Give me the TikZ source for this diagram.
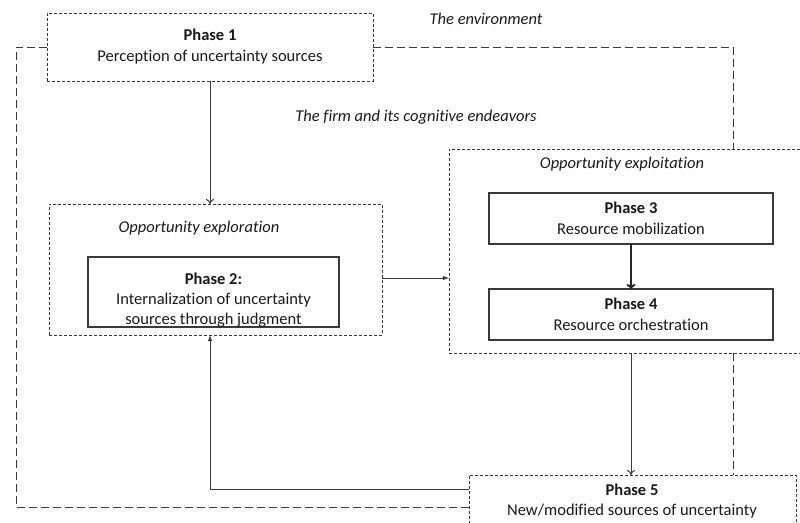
\documentclass[tikz,border=0pt]{standalone}
\usepackage{fontspec}
\setmainfont[Ligatures=NoCommon, RawFeature=-liga]{Carlito}
\usetikzlibrary{arrows.meta}
\definecolor{ln}{HTML}{3A3A3A}
\definecolor{tx}{HTML}{1A1A1A}
\tikzset{
  boxbase/.style={rectangle, inner sep=0pt, outer sep=0pt, align=center, text=tx, font=\fontsize{16.5}{21}\selectfont},
  dashbox/.style={boxbase, draw=ln, line width=1pt, dash pattern=on 3pt off 2pt},
  solidbox/.style={boxbase, draw=ln, line width=1.2pt},
  envline/.style={draw=ln, line width=0.9pt, dash pattern=on 8pt off 4pt},
  itlabel/.style={text=tx, font=\fontsize{16.5}{18}\selectfont\itshape, inner sep=0pt},
  txt/.style={text=tx, align=center, inner sep=0pt, font=\fontsize{16.5}{20}\selectfont},
  openarrow/.style={draw=ln, line width=1pt, -{To[length=5pt,width=8pt]}},
  fillarrow/.style={draw=ln, line width=1pt, -{Latex[length=6pt,width=4.5pt]}},
  thickarrow/.style={draw=black!85, line width=2pt, -{To[length=5pt,width=9pt]}}
}
\begin{document}
\begin{tikzpicture}[x=1pt, y=-1pt]
\clip (0,0) rectangle (800,522);
\fill[white] (0,0) rectangle (800,522);

% boxes
\node[dashbox, minimum width=326pt, minimum height=68pt] (p1) at (210,47)
  {\textbf{Phase 1}\\Perception of uncertainty sources};
\node[dashbox, minimum width=333pt, minimum height=131pt] (explo) at (215.5,269.5) {};
\node[solidbox, minimum width=251pt, minimum height=70pt] (p2) at (213.5,292) {};
\node[dashbox, minimum width=361pt, minimum height=204pt] (exploit) at (629.5,251) {};
\node[solidbox, minimum width=284pt, minimum height=51pt] (p3) at (631,218.5)
  {\textbf{Phase 3}\\Resource mobilization};
\node[solidbox, minimum width=284pt, minimum height=51pt] (p4) at (631,314.5)
  {\textbf{Phase 4}\\Resource orchestration};
\node[dashbox, minimum width=327pt, minimum height=65pt] (p5) at (632.5,507.5) {};

% texts inside boxes
\node[txt] (t2) at (213.5,300) {\textbf{Phase 2:}\\Internalization of uncertainty\\sources through judgment};
\node[txt] (t5) at (632,501) {\textbf{Phase 5}\\New/modified sources of uncertainty};

% italic labels
\node[itlabel] (lenv) at (486,19) {The environment};
\node[itlabel] (lfirm) at (416,117) {The firm and its cognitive endeavors};
\node[itlabel] (lexplo) at (199,228) {Opportunity exploration};
\node[itlabel] (lexploit) at (622,164) {Opportunity exploitation};

% environment boundary
\coordinate (eTL) at (16,47);
\coordinate (eBL) at (16,507);
\coordinate (eR) at (733,47);
\draw[envline] (p1.west) -- (eTL) -- (eBL) -- (eBL -| p5.west);
\draw[envline] (p1.east) -- (eR) -- (eR |- exploit.north);
\draw[envline] (eR |- exploit.south) -- (eR |- p5.north);

% connectors
\draw[openarrow] (p1.south) -- (p1.south |- explo.north);
\coordinate (e1) at ([yshift=-8.5pt]explo.east);
\draw[fillarrow] (e1) -- (e1 -| exploit.west);
\draw[thickarrow] (p3.south) -- (p4.north);
\draw[openarrow] (exploit.south -| p3.south) -- (p3.south |- p5.north);
\coordinate (r1) at ([yshift=-14pt]p5.north west);
\draw[fillarrow] (r1) -- (r1 -| p1.south) -- (p1.south |- explo.south);
\end{tikzpicture}
\end{document}
